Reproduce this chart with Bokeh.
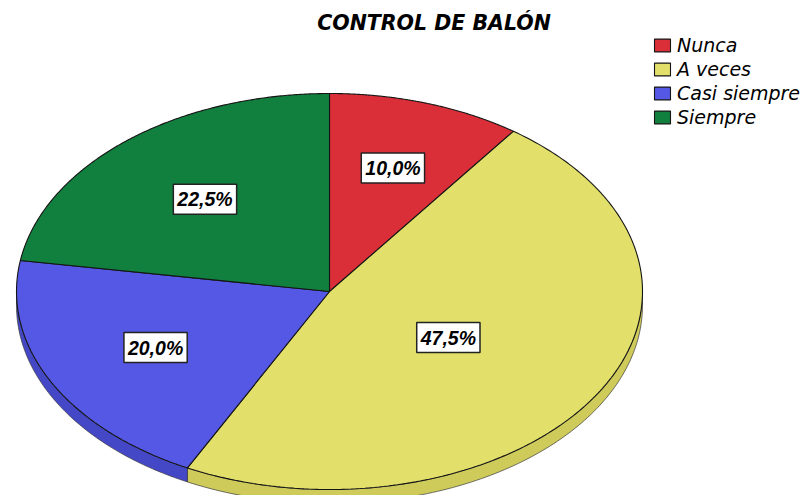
import numpy as np
from bokeh.plotting import figure
from bokeh.models import Range1d, ColumnDataSource, Legend, LegendItem
from bokeh.core.properties import value
from bokeh.embed import file_html
from bokeh.resources import INLINE

# ---- data ----
categories = ["Nunca", "A veces", "Casi siempre", "Siempre"]
percentages = [10.0, 47.5, 20.0, 22.5]
title_text = "CONTROL DE BALÓN"

# ---- style ----
top_colors = ["#DA2F38", "#E2E06A", "#5458E5", "#117F3E"]
side_colors = ["#B82630", "#CFCB5B", "#4448C6", "#0D6A33"]

W, H = 801, 495
cx, cy = 329.0, 291.0      # ellipse centre (pixels)
rx, ry = 313.0, 198.0
depth = 14.0

p = figure(width=W, height=H, output_backend="svg", toolbar_location=None,
           x_range=Range1d(0, W), y_range=Range1d(H, 0),
           x_axis_type=None, y_axis_type=None, min_border=0,
           outline_line_color=None, background_fill_color="white",
           border_fill_color="white")
p.grid.visible = False

vals = np.array(percentages, dtype=float)
fr = vals / vals.sum()
ends = np.cumsum(fr) * 2 * np.pi
starts = ends - fr * 2 * np.pi


def pt(t, dy=0.0):
    return cx + rx * np.sin(t), cy - ry * np.cos(t) + dy


# side walls (visible front half)
sxs, sys_, scol = [], [], []
for a0, a1, c in zip(starts, ends, side_colors):
    lo, hi = max(a0, np.pi / 2), min(a1, 3 * np.pi / 2)
    if hi <= lo:
        continue
    t = np.linspace(lo, hi, 120)
    x1, y1 = pt(t)
    x2, y2 = pt(t[::-1], depth)
    sxs.append(list(np.concatenate([x1, x2])))
    sys_.append(list(np.concatenate([y1, y2])))
    scol.append(c)
p.patches(xs=sxs, ys=sys_, fill_color=scol, line_color="#3a3a3a", line_width=0.7)

# top faces
txs, tys = [], []
for a0, a1 in zip(starts, ends):
    t = np.linspace(a0, a1, 200)
    x, y = pt(t)
    txs.append([cx] + list(x))
    tys.append([cy] + list(y))
src = ColumnDataSource(dict(xs=txs, ys=tys, color=top_colors, cat=categories))
r = p.patches(xs="xs", ys="ys", fill_color="color", line_color="#151515",
              line_width=1.1, source=src)

# percentage labels at sector centroids
mids = (starts + ends) / 2
theta = ends - starts
f = 2 * np.sin(theta / 2) / (3 * theta / 2)
lx = cx + f * rx * np.sin(mids)
ly = cy - f * ry * np.cos(mids)
labels = [f"{v:.1f}%".replace(".", ",") for v in percentages]
p.text(x=list(lx), y=list(ly), text=labels,
       text_font=value("Liberation Sans"), text_font_style="bold italic",
       text_font_size="19.5px", text_align="center", text_baseline="middle",
       text_color="black", background_fill_color="white",
       border_line_color="#222222", border_line_width=1.5, padding=4)

# title
p.text(x=[433.5], y=[22], text=[title_text],
       text_font=value("DejaVu Sans"), text_font_style="bold italic",
       text_font_size="20.5px", text_align="center", text_baseline="middle",
       text_color="black")

# legend
items = [LegendItem(label=c, renderers=[r], index=i) for i, c in enumerate(categories)]
legend = Legend(items=items, location=(652, H - 128),
                glyph_width=20, glyph_height=16, label_height=21, spacing=2,
                padding=0, margin=0, label_standoff=5,
                label_text_font="DejaVu Sans", label_text_font_style="italic",
                label_text_font_size="19px", label_text_color="black",
                border_line_color=None, background_fill_alpha=0)
p.add_layout(legend)

open("out.html", "w").write(file_html(p, INLINE))
